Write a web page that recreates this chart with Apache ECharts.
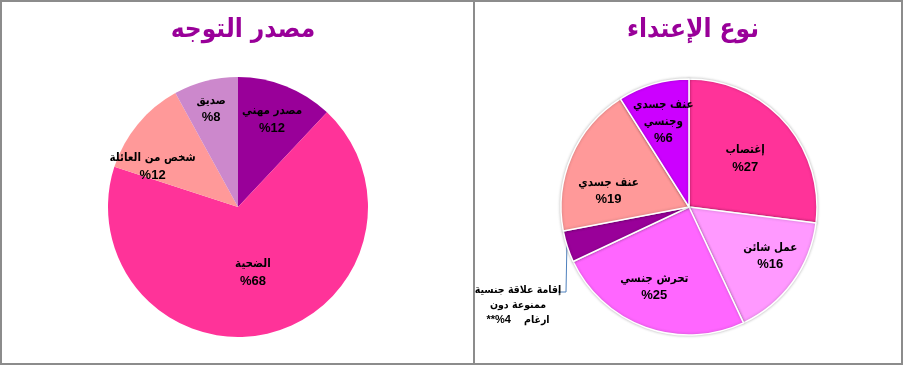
<!DOCTYPE html>
<html><head><meta charset="utf-8">
<script src="https://cdn.jsdelivr.net/npm/echarts@6/dist/echarts.min.js"></script>
<style>html,body{margin:0;padding:0;background:#fff}#c{width:904px;height:367px}</style>
</head><body><div id="c"></div>
<script>
// Left chart: source of referral
const leftTitle = 'مصدر التوجه';
const leftCategories = ['مصدر مهني', 'الضحية', 'شخص من العائلة', 'صديق'];
const leftValues = [12, 68, 12, 8];
const leftColors = ['#990099', '#FF3399', '#FF9999', '#CC88CC'];

// Right chart: type of assault
const rightTitle = 'نوع الإعتداء';
const rightCategories = ['إغتصاب', 'عمل شائن', 'تحرش جنسي', 'إقامة علاقة جنسية\nممنوعة دون\nارغام', 'عنف جسدي', 'عنف جسدي\nوجنسي'];
const rightValues = [27, 16, 25, 4, 19, 9];      // slice sizes as drawn
const rightShown = ['27', '16', '25', '4', '19', '6']; // percentages as printed on the chart
const rightColors = ['#FF3399', '#FF99FF', '#FF66FF', '#990099', '#FF9999', '#CC00FF'];

const FONT = '"DejaVu Sans Condensed", "DejaVu Sans", Arial, sans-serif';
const NUMFONT = 'Arial, "Liberation Sans", sans-serif';
const leftOffsets = [[9, -24], [-2, 0], [-33, 3], [-10, -32]];
const rightOffsets = [[6, -4], [27, 10], [-12, 17], [0, 0], [-19, 11], [-7, -21]];

const chart = echarts.init(document.getElementById('c'));
const rich = {
  n: {color: '#000', fontSize: 11.5, fontWeight: 'bold', fontFamily: FONT, lineHeight: 17},
  v: {color: '#000', fontSize: 13, fontWeight: 'bold', fontFamily: NUMFONT, lineHeight: 17}
};
const fmt = (names, shown) => p => names[p.dataIndex].split('\n').map(s => '{n|' + s + '}').join('\n') + '\n{v|%' + shown[p.dataIndex] + '}';

chart.setOption({
  animation: false,
  backgroundColor: '#fff',
  title: [
    {text: leftTitle, left: 238, top: 12, textAlign: 'center',
     textStyle: {fontSize: 26, fontWeight: 'bold', color: '#990099', fontFamily: FONT}},
    {text: rightTitle, left: 688, top: 12, textAlign: 'center',
     textStyle: {fontSize: 26, fontWeight: 'bold', color: '#990099', fontFamily: FONT}}
  ],
  graphic: [
    {type: 'rect', shape: {x: 1, y: 1, width: 901, height: 363}, style: {fill: 'none', stroke: '#8c8c8c', lineWidth: 2}, silent: true},
    {type: 'line', shape: {x1: 474, y1: 1, x2: 474, y2: 365}, style: {stroke: '#8c8c8c', lineWidth: 2}, silent: true}
  ],
  series: [
    {
      type: 'pie', center: [238, 207], radius: 130, startAngle: 90, clockwise: true,
      data: leftCategories.map((n, i) => ({name: n, value: leftValues[i], itemStyle: {color: leftColors[i]}})),
      label: {position: 'inside', formatter: fmt(leftCategories, leftValues), rich: rich},
      labelLine: {show: false},
      labelLayout: p => ({dx: leftOffsets[p.dataIndex][0], dy: leftOffsets[p.dataIndex][1]}),
      emphasis: {disabled: true}
    },
    {
      type: 'pie', center: [689, 207], radius: 128, startAngle: 90, clockwise: true,
      itemStyle: {borderColor: '#fff', borderWidth: 1.5, shadowBlur: 3, shadowColor: 'rgba(0,0,0,0.25)'},
      data: rightCategories.map((n, i) => {
        const d = {name: n, value: rightValues[i], itemStyle: {color: rightColors[i]}};
        if (i === 3) {
          d.label = {position: 'outside', formatter: '{t|إقامة علاقة جنسية}\n{t|ممنوعة دون}\n{p|**%' + rightShown[3] + '}{t|    ارغام}',
            rich: {t: {fontSize: 10.5, fontWeight: 'bold', color: '#000', fontFamily: FONT, lineHeight: 15},
                   p: {fontSize: 11, fontWeight: 'bold', color: '#000', fontFamily: NUMFONT, lineHeight: 15}}};
          d.labelLine = {show: true, length: 30, length2: 6, lineStyle: {color: '#4F81BD', width: 1}};
        }
        return d;
      }),
      label: {position: 'inside', formatter: fmt(rightCategories, rightShown), rich: rich},
      labelLine: {show: false},
      labelLayout: p => p.dataIndex === 3
        ? {x: 518, y: 305, align: 'center', verticalAlign: 'middle',
           labelLinePoints: [[567, 240], [566, 292], [558, 292]]}
        : {dx: rightOffsets[p.dataIndex][0], dy: rightOffsets[p.dataIndex][1]},
      emphasis: {disabled: true}
    }
  ]
});
</script></body></html>
